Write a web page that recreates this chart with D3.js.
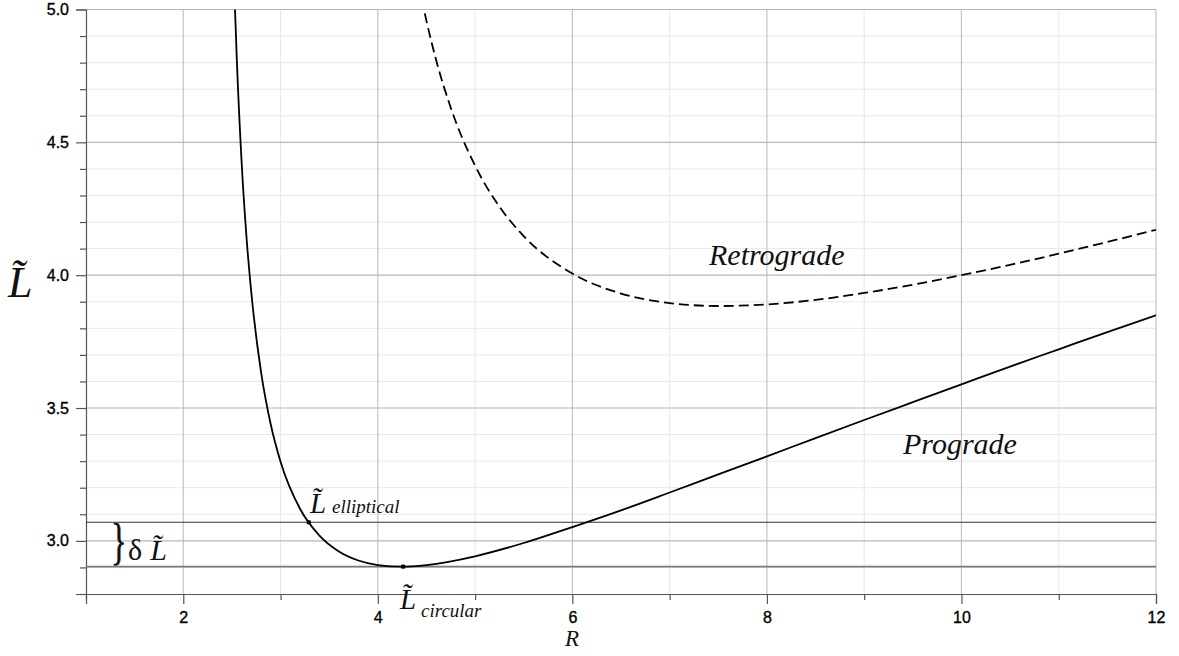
<!DOCTYPE html>
<html>
<head>
<meta charset="utf-8">
<script src="https://cdn.jsdelivr.net/npm/d3@7"></script>
<style>
  html, body { margin: 0; padding: 0; background: #fff; }
  svg { display: block; }
  .math { font-family: "Liberation Serif", "Times New Roman", serif; font-style: italic; fill: #111; }
  .up { font-family: "Liberation Serif", "Times New Roman", serif; fill: #111; }
</style>
</head>
<body>
<svg id="chart" width="1179" height="656"></svg>
<script>
// ---- data ----
const proR = [2.53, 2.55, 2.6, 2.65, 2.7, 2.8, 2.9, 3.0, 3.2, 3.4, 3.6, 3.8, 4.0, 4.25, 4.5, 5.0, 5.5, 6.0, 6.5, 7.0, 7.5, 8.0, 8.5, 9.0, 9.5, 10.0, 10.5, 11.0, 11.5, 12.0];
const proL = [5.02, 4.816, 4.424, 4.143, 3.932, 3.634, 3.437, 3.298, 3.121, 3.020, 2.960, 2.926, 2.909, 2.903, 2.909, 2.942, 2.992, 3.052, 3.115, 3.182, 3.250, 3.318, 3.387, 3.455, 3.522, 3.589, 3.656, 3.721, 3.786, 3.849];
const retroR = [4.45, 4.5, 4.6, 4.75, 5.0, 5.25, 5.5, 6.0, 6.5, 7.0, 7.5, 8.0, 8.5, 9.0, 9.5, 10.0, 10.5, 11.0, 11.5, 12.0];
const retroL = [5.041, 4.957, 4.809, 4.630, 4.412, 4.258, 4.147, 4.006, 3.931, 3.895, 3.884, 3.890, 3.907, 3.933, 3.964, 4.000, 4.039, 4.081, 4.125, 4.171];
const xMajorTicks = [2, 4, 6, 8, 10, 12];
const xMinorTicks = [1, 3, 5, 7, 9, 11];
const yMajorTicks = [3.0, 3.5, 4.0, 4.5, 5.0];
const yMinorTicks = [2.8, 2.9, 3.1, 3.2, 3.3, 3.4, 3.6, 3.7, 3.8, 3.9, 4.1, 4.2, 4.3, 4.4, 4.6, 4.7, 4.8, 4.9];
const levelElliptical = 3.07;
const levelCircular = 2.903;
const pointElliptical = [3.29, 3.07];
const pointCircular = [4.26, 2.903];

// ---- layout ----
const svg = d3.select("#chart");
const pL = 86, pR = 1156, pT = 9.5, pB = 594;
const x = d3.scaleLinear().domain([1, 12]).range([pL, pR]);
const y = d3.scaleLinear().domain([2.8, 5.0]).range([pB, pT]);

// grid
const g = svg.append("g");
g.selectAll(".vminor").data(xMinorTicks.filter(d => d > 1)).enter().append("line")
  .attr("x1", d => x(d)).attr("x2", d => x(d)).attr("y1", pT).attr("y2", pB)
  .attr("stroke", "#e8e8e8").attr("stroke-width", 1);
g.selectAll(".hminor").data(yMinorTicks.filter(d => d > 2.8)).enter().append("line")
  .attr("x1", pL).attr("x2", pR).attr("y1", d => y(d)).attr("y2", d => y(d))
  .attr("stroke", "#e8e8e8").attr("stroke-width", 1);
g.selectAll(".vmajor").data(xMajorTicks).enter().append("line")
  .attr("x1", d => x(d)).attr("x2", d => x(d)).attr("y1", pT).attr("y2", pB)
  .attr("stroke", "#c4c4c4").attr("stroke-width", 1.2);
g.selectAll(".hmajor").data(yMajorTicks).enter().append("line")
  .attr("x1", pL).attr("x2", pR).attr("y1", d => y(d)).attr("y2", d => y(d))
  .attr("stroke", "#b8b8b8").attr("stroke-width", 1.2);

// axes
const xAxis = d3.axisBottom(x).tickValues(xMajorTicks).tickSize(10).tickPadding(8).tickFormat(d3.format("d"));
const xAxisMinor = d3.axisBottom(x).tickValues(xMinorTicks).tickSize(6).tickFormat("");
const yAxis = d3.axisLeft(y).tickValues(yMajorTicks).tickSize(10).tickPadding(7).tickFormat(d3.format(".1f"));
const yAxisMinor = d3.axisLeft(y).tickValues(yMinorTicks).tickSize(6).tickFormat("");

function styleAxis(sel) {
  sel.select(".domain").attr("stroke", "#555").attr("stroke-width", 1.2);
  sel.selectAll(".tick line").attr("stroke", "#555").attr("stroke-width", 1.2);
  sel.selectAll(".tick text")
    .style("font-family", "'Liberation Sans', Arial, sans-serif")
    .style("font-size", "16px")
    .attr("fill", "#000").attr("stroke", "#000").attr("stroke-width", 0.35);
}
svg.append("g").attr("transform", `translate(0,${pB})`).call(xAxisMinor).call(styleAxis).call(s => s.select(".domain").remove());
svg.append("g").attr("transform", `translate(0,${pB})`).call(xAxis).call(styleAxis);
svg.append("g").attr("transform", `translate(${pL},0)`).call(yAxisMinor).call(styleAxis).call(s => s.select(".domain").remove());
svg.append("g").attr("transform", `translate(${pL},0)`).call(yAxis).call(styleAxis);

// reference levels
svg.append("line").attr("x1", pL).attr("x2", pR)
  .attr("y1", y(levelElliptical)).attr("y2", y(levelElliptical))
  .attr("stroke", "#333").attr("stroke-width", 1.2);
svg.append("line").attr("x1", pL).attr("x2", pR)
  .attr("y1", y(levelCircular)).attr("y2", y(levelCircular))
  .attr("stroke", "#7a7a7a").attr("stroke-width", 1.8);

// clip
svg.append("clipPath").attr("id", "clip").append("rect")
  .attr("x", pL).attr("y", pT).attr("width", pR - pL).attr("height", pB - pT);

const line = d3.line().x(d => x(d[0])).y(d => y(d[1])).curve(d3.curveMonotoneX);
const proData = proR.map((r, i) => [r, proL[i]]);
const retroData = retroR.map((r, i) => [r, retroL[i]]);

svg.append("path").datum(proData).attr("clip-path", "url(#clip)")
  .attr("d", line).attr("fill", "none").attr("stroke", "#000").attr("stroke-width", 1.8);
svg.append("path").datum(retroData).attr("clip-path", "url(#clip)")
  .attr("d", line).attr("fill", "none").attr("stroke", "#000").attr("stroke-width", 1.8)
  .attr("stroke-dasharray", "10,5");

// points
[pointElliptical, pointCircular].forEach(p => {
  svg.append("rect").attr("x", x(p[0]) - 2).attr("y", y(p[1]) - 2).attr("width", 4).attr("height", 4).attr("fill", "#000");
});

// ---- labels ----
const LT = "L\u0303";
function tildeL(xp, yp, size) {
  return svg.append("text").attr("class", "math").attr("x", xp).attr("y", yp).attr("font-size", size).text(LT);
}
// y axis title
tildeL(8, 297, 44);
// x axis title
svg.append("text").attr("class", "math").attr("x", 572).attr("y", 646).attr("text-anchor", "middle").attr("font-size", 23).text("R");

// curve names
svg.append("text").attr("class", "math").attr("x", 709).attr("y", 265).attr("font-size", 30).text("Retrograde");
svg.append("text").attr("class", "math").attr("x", 903).attr("y", 454).attr("font-size", 30).text("Prograde");

// L elliptical
tildeL(310, 513, 29);
svg.append("text").attr("class", "math").attr("x", 332).attr("y", 513).attr("font-size", 19).text("elliptical");
// L circular
tildeL(400, 609, 29);
svg.append("text").attr("class", "math").attr("x", 421).attr("y", 617).attr("font-size", 19).text("circular");

// brace (stretched vertically) + delta L
svg.append("text").attr("class", "up").attr("font-size", 31)
  .attr("transform", "translate(111,558) scale(1.05,1.65)").attr("stroke", "#111").attr("stroke-width", 0.4).text("}");
const dl = svg.append("text").attr("class", "up").attr("x", 128).attr("y", 560).attr("font-size", 30);
dl.append("tspan").text("δ");
dl.append("tspan").attr("dx", 8).attr("font-style", "italic").text(LT);
</script>
</body>
</html>
